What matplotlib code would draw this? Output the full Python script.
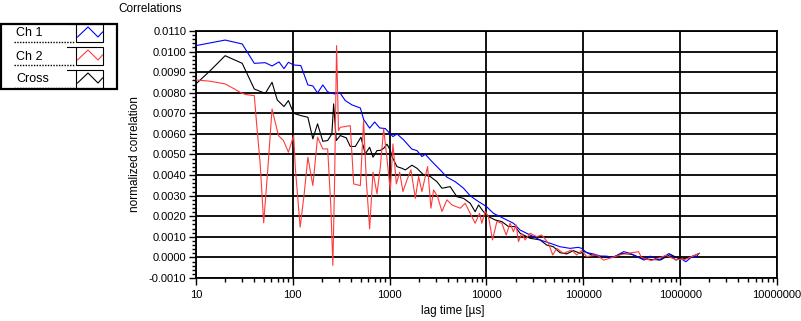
import numpy as np
import matplotlib
matplotlib.use("Agg")
import matplotlib.pyplot as plt
from matplotlib.ticker import FixedLocator, LogLocator, MultipleLocator, FuncFormatter, NullFormatter
from matplotlib.patches import Rectangle
from matplotlib import rcParams
rcParams['font.family'] = ['Liberation Sans', 'DejaVu Sans']

# lag times in microseconds
lag_ch1 = [10, 20, 30, 40, 52, 61, 72, 81, 90, 102, 121, 143, 161, 180, 204, 228, 268, 304,
           348, 408, 498, 539, 621, 700, 789, 902, 1000, 1081, 1191, 1393, 1698, 1914, 2153,
           2333, 2729, 3327, 3899, 4753, 5794, 6792, 8279, 10000, 11803, 14962, 18967, 22233,
           28184, 35727, 45290, 57412, 72946, 88716, 96161, 108143, 126765, 148594, 175000,
           204000, 261000, 306000, 374000, 422000, 494000, 603000, 767000, 902000, 1016000,
           1146000, 1343000, 1455000, 1542000]
ch1 = [0.01029, 0.01056, 0.01037, 0.00943, 0.00946, 0.0093, 0.0095, 0.00917, 0.00948, 0.00935,
       0.00932, 0.00838, 0.00833, 0.00799, 0.00838, 0.00805, 0.00794, 0.00802, 0.00762, 0.00741,
       0.00726, 0.0067, 0.00628, 0.00658, 0.00629, 0.00626, 0.00603, 0.00587, 0.006, 0.00571,
       0.00526, 0.00519, 0.0049, 0.00501, 0.00466, 0.00425, 0.0039, 0.00368, 0.00336, 0.00299,
       0.00271, 0.00247, 0.00214, 0.0019, 0.00166, 0.00133, 0.00109, 0.00085, 0.00069, 0.00052,
       0.00044, 0.00049, 0.00044, 0.00023, 0.00017, 0.00007, 0.00006, 0.0, 0.00028, 0.00019,
       0.0, -0.00013, 0.00006, -0.00013, 0.00019, -0.00013, -0.00006, -0.00021, 0.00006, 0.0,
       0.00016]

lag_ch2 = [10, 14, 20, 25, 30, 33, 40, 42, 46, 50, 55, 61, 71, 80, 90, 102, 106, 119, 131, 143,
           161, 180, 204, 229, 247, 259, 270, 283, 296, 309, 392, 425, 498, 538, 574, 621, 673,
           740, 800, 867, 938, 1016, 1081, 1172, 1268, 1371, 1510, 1660, 1841, 1991, 2153, 2333,
           2466, 2667, 2844, 3126, 3467, 3899, 4395, 5358, 6026, 6792, 7638, 8472, 8954, 9683,
           10495, 11535, 12794, 14388, 15959, 17539, 18967, 20230, 21380, 23121, 25061, 28184,
           33037, 37154, 43551, 48306, 53088, 62230, 75858, 85310, 96161, 108143, 137088,
           162000, 200000, 251000, 372000, 398000, 501000, 631000, 708000, 891000, 1122000,
           1259000, 1578000]
ch2 = [0.00862, 0.00856, 0.00843, 0.00818, 0.00797, 0.00791, 0.00786, 0.00665, 0.00454, 0.00168,
       0.00422, 0.00721, 0.00592, 0.00568, 0.00511, 0.00592, 0.00438, 0.00147, 0.00309, 0.00487,
       0.00349, 0.00584, 0.00527, 0.00527, 0.00244, -0.00039, 0.00373, 0.01029, 0.00616, 0.00632,
       0.0064, 0.00357, 0.00349, 0.00665, 0.00373, 0.00139, 0.00414, 0.00309, 0.00438, 0.00624,
       0.00479, 0.00325, 0.00551, 0.00357, 0.00414, 0.0032, 0.00377, 0.00425, 0.00287, 0.00393,
       0.0032, 0.00393, 0.00441, 0.00239, 0.00328, 0.00295, 0.00223, 0.0028, 0.00255, 0.00239,
       0.00263, 0.00214, 0.00166, 0.00214, 0.00166, 0.00223, 0.00198, 0.00085, 0.00174, 0.00166,
       0.00109, 0.00166, 0.00125, 0.00158, 0.00077, 0.00117, 0.00085, 0.00117, 0.00101, 0.00109,
       0.00069, 0.00012, 0.00044, 0.0002, 0.00036, 0.00012, 0.00033, 0.00004, 0.00012, -0.00013,
       0.0, 0.00015, 0.00028, 0.0, -0.00015, 0.0, 0.0001, -0.0001, -0.0001, 0.0, 0.00019]

lag_cross = [10, 14, 20, 30, 40, 52, 61, 69, 81, 90, 102, 121, 143, 161, 180, 204, 229, 253,
             264, 281, 309, 356, 392, 442, 505, 560, 621, 673, 740, 802, 867, 938, 1016, 1057,
             1191, 1340, 1452, 1698, 1914, 2239, 2624, 3076, 3467, 4217, 4943, 5794, 6792, 7638,
             8279, 9311, 10495, 12274, 14388, 16866, 19770, 22233, 28184, 35727, 41879, 48978,
             57412, 67298, 78886, 92470, 103992, 121900, 148594, 200000, 251000, 316000, 398000,
             501000, 631000, 794000, 1000000, 1259000, 1585000]
cross = [0.00843, 0.00907, 0.0098, 0.00943, 0.00818, 0.00797, 0.00851, 0.00765, 0.00733, 0.00762,
         0.007, 0.00689, 0.00681, 0.00576, 0.00649, 0.00564, 0.00568, 0.006, 0.00746, 0.00568,
         0.00592, 0.00581, 0.00539, 0.00539, 0.00584, 0.00503, 0.00535, 0.00487, 0.00519, 0.0052,
         0.0053, 0.0055, 0.0052, 0.0049, 0.00441, 0.00433, 0.00425, 0.00448, 0.00433, 0.00401,
         0.00393, 0.00368, 0.00336, 0.00344, 0.00295, 0.00287, 0.00263, 0.00222, 0.00255, 0.00222,
         0.00198, 0.00182, 0.00174, 0.0015, 0.0015, 0.00117, 0.00093, 0.00085, 0.0006, 0.00052,
         0.00023, 0.00017, 0.00033, 0.0002, 0.00028, 0.00012, 0.00003, 0.0, 0.0002, 0.00015,
         -0.00005, -0.0001, -0.00012, 0.00015, -0.0001, 0.0, 0.0002]

names = ["Ch 1", "Ch 2", "Cross"]
colors = ["#0000ff", "#ff3b3b", "#000000"]
x_ticks = [10, 100, 1000, 10000, 100000, 1000000, 10000000]

W, H = 801, 321
fs = 8.5
fig = plt.figure(figsize=(W / 100, H / 100), dpi=100)
ax = fig.add_axes([196 / W, 1 - 278 / H, 581 / W, 247 / H])

ax.plot(lag_ch1, ch1, color=colors[0], lw=0.8, zorder=4)
ax.plot(lag_cross, cross, color=colors[2], lw=0.8, zorder=3)
ax.plot(lag_ch2, ch2, color=colors[1], lw=0.8, zorder=5)

ax.set_xscale("log")
ax.set_xlim(10, 1e7)
ax.set_ylim(-0.0010, 0.0110)
ax.xaxis.set_major_locator(FixedLocator(x_ticks))
ax.xaxis.set_minor_locator(LogLocator(base=10, subs=np.arange(2, 10), numticks=20))
ax.xaxis.set_major_formatter(FuncFormatter(lambda v, p: "%d" % round(v)))
ax.xaxis.set_minor_formatter(NullFormatter())
ax.yaxis.set_major_locator(MultipleLocator(0.001))
ax.yaxis.set_minor_locator(MultipleLocator(0.0002))
ax.yaxis.set_major_formatter(FuncFormatter(lambda v, p: "%.4f" % v))

ax.grid(True, which="major", color="black", lw=1.3)
for s in ax.spines.values():
    s.set_linewidth(1.3)
ax.tick_params(which="major", direction="out", length=5, width=1, labelsize=8, pad=2, colors="black")
ax.tick_params(which="minor", direction="out", length=3, width=1)
ax.tick_params(axis="x", which="major", pad=4)

ax.set_ylabel("normalized correlation", fontsize=fs)
ax.yaxis.set_label_coords((141 - 196) / 581, 0.5)
ax.set_xlabel("lag time [µs]", fontsize=fs, va="center")
ax.xaxis.set_label_coords((453 - 196) / 581, (278 - 311) / 247)

fig.text(118 / W, 1 - 9 / H, "Correlations", fontsize=fs, va="center", ha="left")

# legend drawn by hand in pixel coordinates
lg = fig.add_axes([0, 0, 1, 1])
lg.set_xlim(0, W)
lg.set_ylim(H, 0)
lg.axis("off")
lg.add_patch(Rectangle((1, 23.5), 116, 65.5, fill=False, ec="black", lw=1.6))
for i, (name, c) in enumerate(zip(names, colors)):
    top = 24 + i * 23
    lg.add_patch(Rectangle((76, top), 27, 18, fill=False, ec="black", lw=0.8))
    lg.plot([67, 76], [top, top], color="black", lw=0.8)
    lg.plot([14, 75], [top + 18, top + 18], color="black", lw=1.0, ls=(0, (1, 1)))
    lg.plot([77.5, 88, 98, 102.5], [top + 13, top + 3, top + 13, top + 8], color=c, lw=0.8)
    lg.text(16, top + 9.5, name, fontsize=fs + 0.5, va="center", ha="left")

fig.savefig("out.png", dpi=100)
